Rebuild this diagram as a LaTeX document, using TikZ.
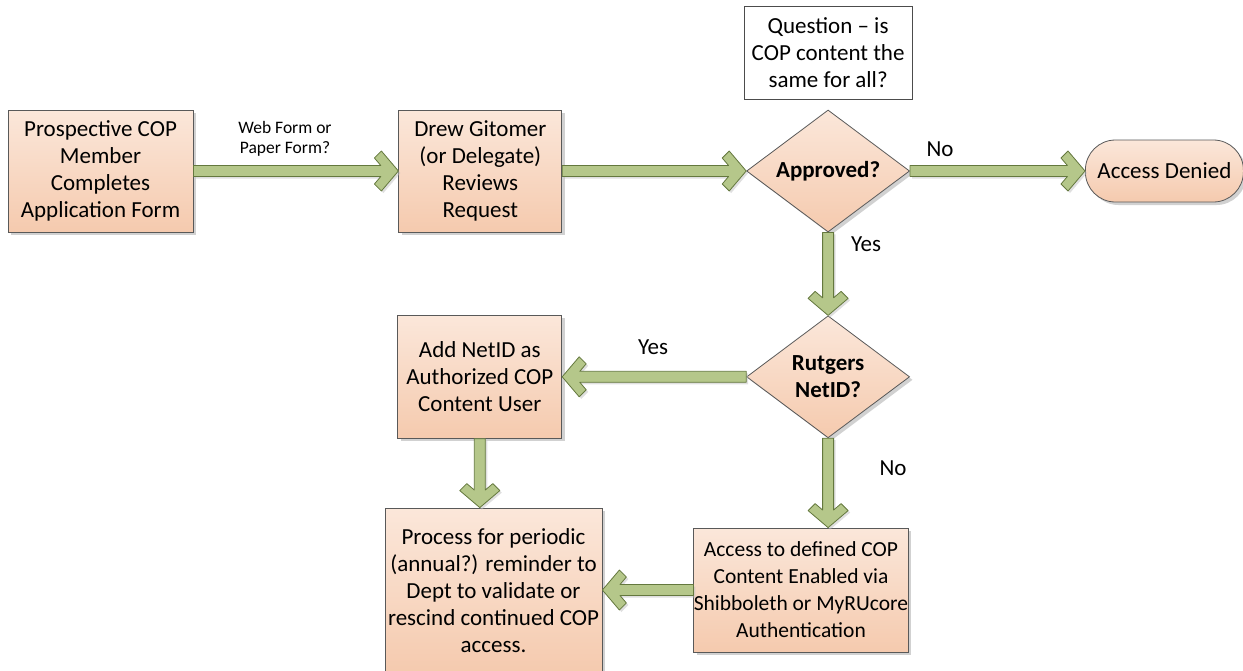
\documentclass[tikz,border=0pt]{standalone}
\usepackage{fontspec}
\setmainfont{Carlito}
\usepackage{tikz}
\usetikzlibrary{shapes.geometric, positioning, shadows}

\definecolor{boxtop}{RGB}{251,231,218}
\definecolor{boxbot}{RGB}{245,202,174}
\definecolor{arrowfill}{RGB}{181,199,138}
\definecolor{arrowline}{RGB}{100,120,62}

% fat green arrow with open head, from #1 to #2
\newcommand\garrow[2]{%
  \path (#1) coordinate (ga) (#2) coordinate (gb);
  \pgfmathanglebetweenpoints{\pgfpointanchor{ga}{center}}{\pgfpointanchor{gb}{center}}%
  \let\gaangle\pgfmathresult
  \pgfpointdiff{\pgfpointanchor{ga}{center}}{\pgfpointanchor{gb}{center}}%
  \pgfgetlastxy{\gadx}{\gady}%
  \pgfmathsetmacro\galen{veclen(\gadx,\gady)}%
  \begin{scope}[shift={(ga)}, rotate=\gaangle]
    \draw[arrowbody] (0,5.5) -- (\galen-17.6,5.5) -- (\galen-24,13) -- (\galen-17,20)
      -- (\galen,0) -- (\galen-17,-20) -- (\galen-24,-13) -- (\galen-17.6,-5.5)
      -- (0,-5.5) -- cycle;
  \end{scope}}

\begin{document}
\begin{tikzpicture}[
        x=1pt, y=-1pt,
        font=\fontsize{23}{27}\selectfont,
        shade/.style={top color=boxtop, bottom color=boxbot, draw=black!65, line width=0.8pt,
            drop shadow={shadow xshift=3pt, shadow yshift=-3pt, fill=black!30, opacity=0.6}},
        process/.style={rectangle, shade, align=center, inner sep=0pt},
        decision/.style={diamond, shade, aspect=1.34, minimum width=163pt, minimum height=122pt,
            inner sep=0pt, align=center, font=\fontsize{23}{27}\selectfont\bfseries},
        terminal/.style={rectangle, rounded corners=30pt, shade, align=center, inner sep=0pt},
        note/.style={rectangle, draw=black!70, line width=0.8pt, fill=white, align=center, inner sep=0pt},
        lbl/.style={align=center, inner sep=0pt},
        arrowbody/.style={fill=arrowfill, draw=arrowline, line width=0.8pt, line join=round,
            drop shadow={shadow xshift=2pt, shadow yshift=-2pt, fill=black!25, opacity=0.5}}
    ]
    \useasboundingbox (0,0) rectangle (1243,670);

    \node (apply) [process, minimum width=185pt, minimum height=122pt] at (100.5,171)
        {Prospective COP\\Member\\Completes\\Application Form};
    \node (review) [process, minimum width=163pt, minimum height=122pt, right=205pt of apply]
        {Drew Gitomer\\(or Delegate)\\Reviews\\Request};
    \node (approved) [decision, right=184pt of review] {Approved?};
    \node (question) [note, minimum width=168pt, minimum height=93pt, above=10pt of approved]
        {Question – is\\COP content the\\same for all?};
    \node (denied) [terminal, minimum width=158pt, minimum height=62pt, right=175pt of approved]
        {Access Denied};
    \node (netid) [decision, below=83pt of approved] {Rutgers\\NetID?};
    \node (addnetid) [process, minimum width=164pt, minimum height=123pt, left=184pt of netid]
        {Add NetID as\\Authorized COP\\Content User};
    \node (enabled) [process, minimum width=214pt, minimum height=124pt,
        font=\fontsize{21.5}{27}\selectfont] at (801,590)
        {Access to defined COP\\Content Enabled via\\Shibboleth or MyRUcore\\Authentication};
    \node (periodic) [process, minimum width=217pt, minimum height=166pt] at (493.5,591)
        {Process for periodic\\(annual?) reminder to\\Dept to validate or\\rescind continued COP\\access.};

    \garrow{apply.east}{review.west}
    \garrow{review.east}{approved.west}
    \garrow{approved.east}{denied.west}
    \garrow{approved.south}{netid.north}
    \garrow{netid.west}{addnetid.east}
    \garrow{addnetid.south}{addnetid.south |- periodic.north}
    \garrow{netid.south}{netid.south |- enabled.north}
    \garrow{enabled.west}{periodic.east |- enabled.west}

    \node (webform) [lbl, font=\fontsize{17.5}{20}\selectfont] at (285,139) {Web Form or\\Paper Form?};
    \node (no1) [lbl] at (940,149) {No};
    \node (yes1) [lbl] at (866,244) {Yes};
    \node (yes2) [lbl] at (653,347) {Yes};
    \node (no2) [lbl] at (893,468) {No};

\end{tikzpicture}
\end{document}
